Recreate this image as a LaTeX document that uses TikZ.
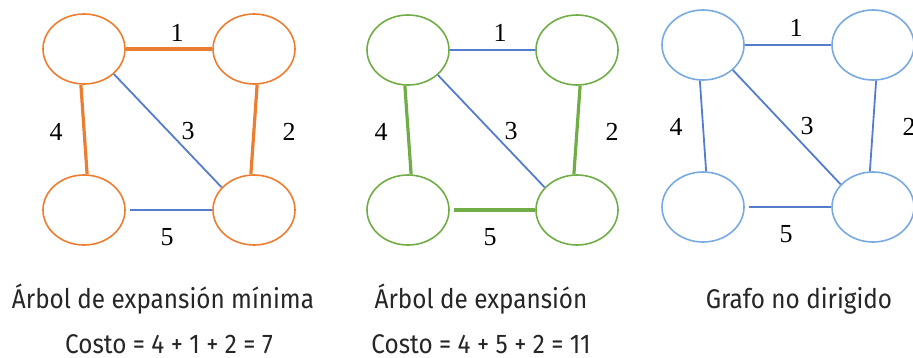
\documentclass[tikz,border=0pt]{standalone}
\usepackage{fontspec}
\usetikzlibrary{shapes.geometric}
\setmainfont{Liberation Serif}
\newfontfamily\capfont[FakeStretch=0.9]{Fira Sans}
\definecolor{orangeMST}{RGB}{237,125,49}
\definecolor{greenST}{RGB}{112,173,71}
\definecolor{blueNode}{RGB}{120,170,225}
\definecolor{blueEdge}{RGB}{85,125,205}

\begin{document}
\begin{tikzpicture}[x=1pt,y=-1pt,line width=1.6pt]
\useasboundingbox (0,0) rectangle (913,357);
\clip (0,0) rectangle (913,357);
\newcommand{\rx}{41pt}
\newcommand{\ry}{35pt}
\tikzset{vert/.style={draw,ellipse,minimum width=2*\rx,minimum height=2*\ry,inner sep=0pt},
  wt/.style={font=\fontsize{26}{26}\selectfont},
  caption/.style={font=\capfont\fontsize{27}{27}\selectfont,text=black!85,anchor=base},
  light/.style={blueEdge,line width=1.8pt},
  heavy/.style={line width=3.2pt}}

% minimum spanning tree
\begin{scope}[every node/.style={vert,orangeMST}]
\node (A_1) at (84,49) {};
\node (B_1) at (254,49) {};
\node (C_1) at (84,210) {};
\node (D_1) at (254,210) {};
\end{scope}
\draw[orangeMST,heavy] (A_1.east) -- (B_1.west);
\draw[orangeMST,heavy] (A_1.-95) -- (C_1.85);
\draw[orangeMST,heavy] (B_1.-85) -- (D_1.95);
\draw[light] (A_1.-40) -- (D_1.145);
\draw[light] ([xshift=4pt]C_1.east) -- (D_1.west);
\node[wt] at (177,33) {1};
\node[wt] at (56,132) {4};
\node[wt] at (188,131) {3};
\node[wt] at (289,132) {2};
\node[wt] at (167,237) {5};

% spanning tree
\begin{scope}[every node/.style={vert,greenST}]
\node (A_2) at (408,50) {};
\node (B_2) at (577,50) {};
\node (C_2) at (408,210) {};
\node (D_2) at (577,210) {};
\end{scope}
\draw[light] (A_2.east) -- (B_2.west);
\draw[greenST,heavy] (A_2.-95) -- (C_2.85);
\draw[greenST,heavy] (B_2.-85) -- (D_2.95);
\draw[light] (A_2.-40) -- (D_2.145);
\draw[greenST,heavy] ([xshift=4pt]C_2.east) -- (D_2.west);
\node[wt] at (500,33) {1};
\node[wt] at (381,132) {4};
\node[wt] at (511,131) {3};
\node[wt] at (612,132) {2};
\node[wt] at (490,237) {5};

% undirected graph
\begin{scope}[every node/.style={vert,blueNode}]
\node (A_3) at (703,45) {};
\node (B_3) at (873,45) {};
\node (C_3) at (703,207) {};
\node (D_3) at (873,207) {};
\end{scope}
\draw[light] (A_3.east) -- (B_3.west);
\draw[light] (A_3.-95) -- (C_3.85);
\draw[light] (B_3.-85) -- (D_3.95);
\draw[light] (A_3.-40) -- (D_3.145);
\draw[light] ([xshift=4pt]C_3.east) -- (D_3.west);
\node[wt] at (796,28) {1};
\node[wt] at (676,127) {4};
\node[wt] at (807,126) {3};
\node[wt] at (909,127) {2};
\node[wt] at (786,234) {5};

% captions
\node[caption] (cap_1) at (163,308) {Árbol de expansión mínima};
\node[caption] (cost_1) at (169,353) {Costo = 4 + 1 + 2 = 7};
\node[caption] (cap_2) at (481,308) {Árbol de expansión};
\node[caption] (cost_2) at (481,353) {Costo = 4 + 5 + 2 = 11};
\node[caption] (cap_3) at (799,308) {Grafo no dirigido};
\end{tikzpicture}
\end{document}
